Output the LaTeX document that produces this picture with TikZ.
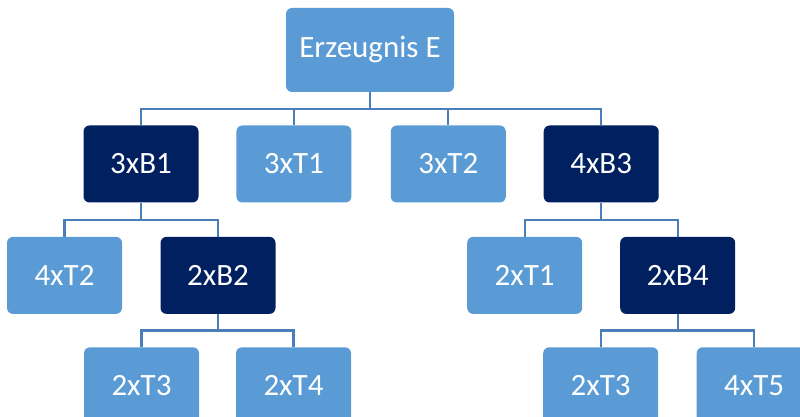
\documentclass[tikz,border=0pt]{standalone}
\usepackage{fontspec}
\setmainfont{Carlito}
\usetikzlibrary{positioning}
\definecolor{lightbox}{HTML}{5B9BD5}
\definecolor{darkbox}{HTML}{002060}
\definecolor{linkblue}{HTML}{4A7EBB}

\begin{document}
\begin{tikzpicture}[x=1pt, y=1pt, node distance=34pt and 37.5pt]
		\tikzstyle{box}=[rounded corners=6pt, minimum width=115pt, minimum height=77pt, inner sep=0pt, text=white, font=\fontsize{31}{37}\selectfont]
		\tikzstyle{teil}=[box, fill=lightbox]
		\tikzstyle{baugruppe}=[box, fill=darkbox]
		\tikzstyle{link}=[draw=linkblue, line width=2.3pt]
		\clip (0,0) rectangle (800,417);
		\node[teil, minimum width=168pt, minimum height=84pt] (E) at (370,367) {Erzeugnis E};
		\node[baugruppe] (B1) at (141,253) {3xB1};
		\node[teil, right=of B1] (T1) {3xT1};
		\node[teil, right=39pt of T1] (T2) {3xT2};
		\node[baugruppe, right=of T2] (B3) {4xB3};
		\node[teil, below=of B1, xshift=-76.5pt] (B1T2) {4xT2};
		\node[baugruppe, below=of B1, xshift=77pt] (B2) {2xB2};
		\node[teil, below=33pt of B2, xshift=-76.5pt] (B2T3) {2xT3};
		\node[teil, below=33pt of B2, xshift=75.5pt] (B2T4) {2xT4};
		\node[teil, below=of B3, xshift=-76.5pt] (B3T1) {2xT1};
		\node[baugruppe, below=of B3, xshift=76.5pt] (B4) {2xB4};
		\node[teil, below=33pt of B4, xshift=-77pt] (B4T3) {2xT3};
		\node[teil, below=33pt of B4, xshift=76.5pt] (B4T5) {4xT5};
		% Verbindungen
		\foreach \c in {B1,T1,T2,B3}
			\draw[link] (E.south) -- ++(0,-17) -| (\c.north);
		\foreach \c in {B1T2,B2}
			\draw[link] (B1.south) -- ++(0,-17) -| (\c.north);
		\foreach \c in {B3T1,B4}
			\draw[link] (B3.south) -- ++(0,-17) -| (\c.north);
		\foreach \c in {B2T3,B2T4}
			\draw[link] (B2.south) -- ++(0,-16.5) -| (\c.north);
		\foreach \c in {B4T3,B4T5}
			\draw[link] (B4.south) -- ++(0,-16.5) -| (\c.north);
	\end{tikzpicture}
\end{document}
